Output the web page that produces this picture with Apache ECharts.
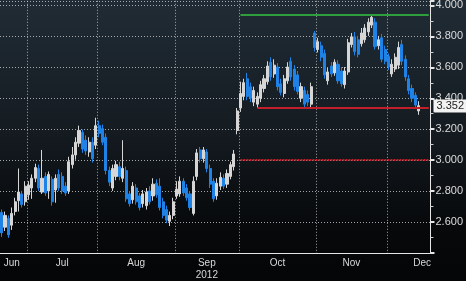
<!DOCTYPE html>
<html>
<head>
<meta charset="utf-8">
<script src="https://cdn.jsdelivr.net/npm/echarts@6/dist/echarts.min.js"></script>
<style>
html,body{margin:0;padding:0;width:466px;height:281px;overflow:hidden;
background:linear-gradient(to bottom,#202c35 0%,#151c22 45%,#07090b 80%,#040506 100%);}
#c{width:466px;height:281px;}
</style>
</head>
<body>
<div id="c"></div>
<script>
// ---- data ----
const startDate = '2012-06-20';
const holidays = ['2012-07-04', '2012-09-03', '2012-11-22'];
const categoryCount = 128;

const opens = [
2.662,2.567,2.624,2.580,2.668,2.738,2.782,2.731,2.776,2.820,
2.883,2.946,2.794,2.895,2.801,2.876,2.807,2.908,2.895,2.832,
2.801,2.971,3.034,3.110,3.179,3.129,3.053,3.116,3.097,3.223,
3.204,3.148,2.933,2.820,2.895,2.958,2.883,2.933,2.782,2.744,
2.820,2.769,2.719,2.706,2.801,2.769,2.851,2.832,2.731,2.681,
2.605,2.643,2.769,2.782,2.864,2.820,2.782,2.656,2.895,3.066,
3.009,3.053,2.946,2.864,2.769,2.832,2.883,2.845,2.895,2.958,
3.192,3.337,3.412,3.526,3.475,3.375,3.362,3.400,3.463,3.507,
3.633,3.557,3.602,3.494,3.431,3.513,3.639,3.589,3.551,3.400,
3.450,3.425,3.362,3.822,3.715,3.740,3.690,3.513,3.608,3.564,
3.620,3.576,3.488,3.570,3.747,3.797,3.778,3.753,3.778,3.829,
3.873,3.892,3.740,3.791,3.715,3.671,3.557,3.589,3.614,3.747,
3.652,3.526,3.463,3.419,3.318
];
const closes = [
2.530,2.643,2.517,2.656,2.731,2.794,2.713,2.832,2.839,2.883,
2.952,2.820,2.883,2.788,2.908,2.731,2.883,2.820,2.801,2.788,
2.990,3.034,3.116,3.192,3.072,3.059,3.116,3.009,3.223,3.173,
3.116,2.933,2.858,2.946,2.971,2.895,2.946,2.750,2.719,2.832,
2.731,2.694,2.782,2.794,2.731,2.845,2.776,2.694,2.643,2.612,
2.643,2.731,2.813,2.864,2.788,2.757,2.694,2.864,3.047,3.009,
3.066,2.946,2.845,2.750,2.851,2.889,2.832,2.914,2.971,3.040,
3.318,3.431,3.501,3.412,3.400,3.450,3.412,3.488,3.526,3.608,
3.538,3.614,3.475,3.438,3.526,3.602,3.538,3.475,3.444,3.475,
3.362,3.375,3.475,3.728,3.766,3.665,3.551,3.570,3.557,3.633,
3.513,3.494,3.576,3.759,3.797,3.702,3.684,3.822,3.854,3.892,
3.923,3.734,3.778,3.652,3.639,3.602,3.620,3.665,3.728,3.639,
3.538,3.450,3.400,3.356,3.352
];
const lows = [
2.504,2.542,2.498,2.549,2.643,2.668,2.694,2.706,2.744,2.750,
2.858,2.801,2.782,2.769,2.750,2.706,2.725,2.801,2.782,2.769,
2.782,2.946,3.003,3.085,3.047,3.034,3.022,2.984,3.072,3.148,
3.097,2.908,2.832,2.801,2.870,2.870,2.858,2.731,2.700,2.719,
2.713,2.675,2.694,2.681,2.713,2.738,2.757,2.675,2.624,2.593,
2.574,2.618,2.750,2.763,2.769,2.738,2.675,2.643,2.870,2.984,
2.984,2.921,2.820,2.731,2.744,2.807,2.813,2.820,2.876,2.933,
3.167,3.312,3.387,3.387,3.375,3.349,3.337,3.375,3.438,3.488,
3.513,3.532,3.450,3.419,3.406,3.494,3.513,3.450,3.425,3.375,
3.343,3.349,3.337,3.702,3.696,3.639,3.526,3.488,3.538,3.545,
3.494,3.475,3.463,3.551,3.728,3.677,3.665,3.734,3.759,3.803,
3.854,3.715,3.715,3.633,3.620,3.583,3.538,3.570,3.589,3.614,
3.513,3.425,3.375,3.337,3.293
];
const highs = [
2.681,2.668,2.643,2.694,2.757,2.946,2.801,2.864,2.864,2.908,
2.977,2.971,3.066,2.921,2.927,2.895,2.908,2.940,2.921,2.858,
3.022,3.085,3.148,3.223,3.198,3.160,3.148,3.148,3.274,3.255,
3.230,3.173,2.958,2.971,2.996,2.990,3.129,2.958,2.801,2.858,
2.845,2.788,2.807,2.820,2.832,2.883,2.876,2.883,2.757,2.706,
2.668,2.757,2.864,2.895,2.883,2.845,2.801,2.895,3.072,3.085,
3.085,3.072,2.971,2.883,2.883,2.921,2.908,2.940,2.990,3.066,
3.337,3.507,3.526,3.564,3.501,3.475,3.438,3.513,3.551,3.639,
3.665,3.652,3.627,3.526,3.551,3.633,3.665,3.614,3.576,3.501,
3.475,3.450,3.501,3.835,3.791,3.766,3.715,3.595,3.633,3.652,
3.646,3.602,3.602,3.784,3.822,3.829,3.803,3.854,3.879,3.917,
3.936,3.917,3.803,3.816,3.740,3.690,3.652,3.690,3.766,3.778,
3.677,3.551,3.488,3.438,3.381
];
const lastPrice = 3.352;

const monthLabelDates = ['2012-06-25','2012-07-17','2012-08-16','2012-09-17','2012-10-16','2012-11-15','2012-12-17'];
const monthLabelTexts = ['Jun','Jul','Aug','Sep\n2012','Oct','Nov','Dec'];

const yTicksMin = 2.4, yTicksMax = 4.03, yTickStep = 0.2;

const resistanceLevel = 3.94, resistanceStart = '2012-10-01';
const supportLevel = 3.34, supportStart = '2012-10-08';
const targetLevel = 3.0, targetStart = '2012-10-01';

// ---- categories (trading days) ----
function pad(n){return n<10?'0'+n:''+n;}
const categories = [];
{
  const d = new Date(startDate + 'T12:00:00Z');
  while (categories.length < categoryCount) {
    const wd = d.getUTCDay();
    const s = d.getUTCFullYear() + '-' + pad(d.getUTCMonth()+1) + '-' + pad(d.getUTCDate());
    if (wd !== 0 && wd !== 6 && holidays.indexOf(s) < 0) categories.push(s);
    d.setUTCDate(d.getUTCDate()+1);
  }
}
const lastCat = categories[categories.length-1];
const candleData = opens.map((o,i)=>[o, closes[i], lows[i], highs[i]]);

const chart = echarts.init(document.getElementById('c'), null, {renderer:'canvas'});
const gridLine = {show:true, lineStyle:{color:'rgba(215,215,215,0.75)', type:[1,2], width:1}};
chart.setOption({
  backgroundColor:'transparent',
  animation:false,
  grid:{left:0, right:34, top:0, bottom:24},
  xAxis:{
    type:'category', data:categories, boundaryGap:true,
    axisLine:{show:true, lineStyle:{color:'#e6e6e6', width:1}},
    axisTick:{show:false},
    splitLine:Object.assign({}, gridLine, {interval:(idx)=> idx>0 && categories[idx].slice(0,7)!==categories[idx-1].slice(0,7)}),
    axisLabel:{
      interval:(idx)=> monthLabelDates.indexOf(categories[idx])>=0,
      formatter:(v)=> monthLabelTexts[monthLabelDates.indexOf(v)],
      color:'#d8d8d8', fontSize:10, fontFamily:'Liberation Sans, Arial, sans-serif',
      margin:4, lineHeight:12
    }
  },
  yAxis:{
    type:'value', position:'right', min:yTicksMin, max:yTicksMax, interval:yTickStep, scale:true,
    axisLine:{show:true, lineStyle:{color:'#e6e6e6', width:1}},
    axisTick:{show:true, length:4, lineStyle:{color:'#e6e6e6', width:2}},
    minorTick:{show:true, splitNumber:2, length:3, lineStyle:{color:'#cfcfcf', width:1}},
    splitLine:gridLine,
    axisLabel:{
      showMinLabel:false, showMaxLabel:false, margin:5,
      formatter:(v)=> v.toFixed(3),
      color:'#dcdcdc', fontSize:11, fontFamily:'Liberation Sans, Arial, sans-serif'
    }
  },
  series:[{
    type:'candlestick',
    data:candleData,
    barWidth:2.6,
    itemStyle:{color:'#d6d6d6', color0:'#1f82e6', borderColor:'#d6d6d6', borderColor0:'#1f82e6', borderWidth:1},
    markLine:{
      silent:true, symbol:['none','none'], animation:false,
      data:[
        [{coord:[resistanceStart, resistanceLevel], lineStyle:{color:'#2f9e3c', width:2, type:'solid'}, label:{show:false}},
         {coord:[lastCat, resistanceLevel]}],
        [{coord:[supportStart, supportLevel], lineStyle:{color:'#c21f2b', width:2, type:'solid'}, label:{show:false}},
         {coord:[lastCat, supportLevel]}],
        [{coord:[targetStart, targetLevel], lineStyle:{color:'#c21f2b', width:2, type:[2,1]}, label:{show:false}},
         {coord:[lastCat, targetLevel]}],
        {yAxis:lastPrice, lineStyle:{color:'rgba(0,0,0,0)', width:1, type:'solid'},
         label:{show:true, position:'end', distance:3, formatter:()=>lastPrice.toFixed(3),
                backgroundColor:'#f2f2f2', color:'#222', padding:[1,3,1,3], fontSize:11,
                fontFamily:'Liberation Sans, Arial, sans-serif', borderRadius:1, opacity:1}}
      ]
    }
  }]
});
</script>
</body>
</html>
